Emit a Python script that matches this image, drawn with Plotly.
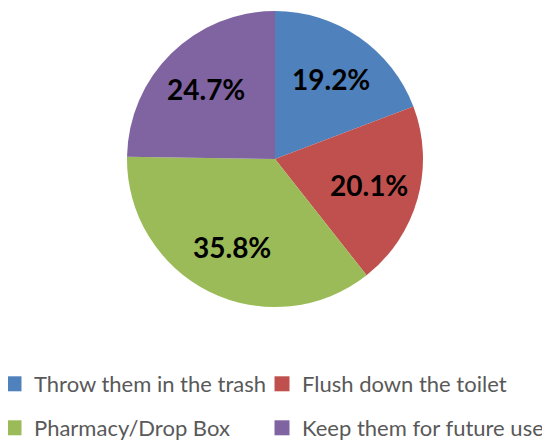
import math
import plotly.graph_objects as go

categories = ["Throw them in the trash", "Flush down the toilet", "Pharmacy/Drop Box", "Keep them for future use"]
values = [19.2, 20.1, 35.8, 24.7]
colors = ["#4F81BD", "#C0504D", "#9BBB59", "#8064A2"]

# figure size (page body has an 8px margin inside the 550x440 window)
W, H = 542, 432
MT, MB = 3, 132
CX, CY, R = 267, 151, 148          # pie centre / radius in figure px
LABEL_R = 0.66 * R
LEG_COL_X = [-14, 254]             # legend box left edge per column (figure px)
LEG_ROW_Y = [355, 399]             # legend box top edge per row (figure px)

def px_x(p):
    return p / W

def px_y(p):
    return (H - MB - p) / (H - MT - MB)

fig = go.Figure(go.Pie(
    labels=categories,
    values=values,
    sort=False,
    direction="clockwise",
    rotation=0,
    marker=dict(colors=colors, line=dict(width=0)),
    textinfo="none",
    showlegend=False,
    domain=dict(x=[px_x(CX - R), px_x(CX + R)], y=[max(0, px_y(CY + R)), min(1, px_y(CY - R))]),
    hoverinfo="label+percent",
))

# percentage labels on the bisector of each slice
total = sum(values)
cum = 0.0
for v in values:
    mid = (cum + v / 2) / total * 2 * math.pi
    cum += v
    lx = CX + LABEL_R * math.sin(mid)
    ly = CY - LABEL_R * math.cos(mid)
    fig.add_annotation(
        x=px_x(lx), y=px_y(ly), xref="paper", yref="paper",
        text=f"{v:.1f}%", showarrow=False,
        xanchor="center", yanchor="middle",
        font=dict(family="Lato", size=28, color="black", weight="bold"),
    )

# legend entries (2 x 2 grid), one legend box per entry
legend_layout = {}
for i, (name, col) in enumerate(zip(categories, colors)):
    key = "legend" if i == 0 else f"legend{i + 1}"
    fig.add_trace(go.Scatter(
        x=[None], y=[None], mode="markers", name=name,
        marker=dict(symbol="square", size=15, color=col),
        legend=key, hoverinfo="skip",
    ))
    legend_layout[key] = dict(
        x=px_x(LEG_COL_X[i % 2]), xanchor="left",
        y=px_y(LEG_ROW_Y[i // 2]), yanchor="top",
        font=dict(family="Lato", size=22, color="#595959"),
        bgcolor="rgba(0,0,0,0)",
        itemclick=False, itemdoubleclick=False,
    )

fig.update_layout(
    width=W, height=H,
    margin=dict(l=0, r=0, t=MT, b=MB, autoexpand=False),
    paper_bgcolor="white",
    plot_bgcolor="white",
    showlegend=True,
    xaxis=dict(visible=False),
    yaxis=dict(visible=False),
    **legend_layout,
)

fig.write_html("out.html")
